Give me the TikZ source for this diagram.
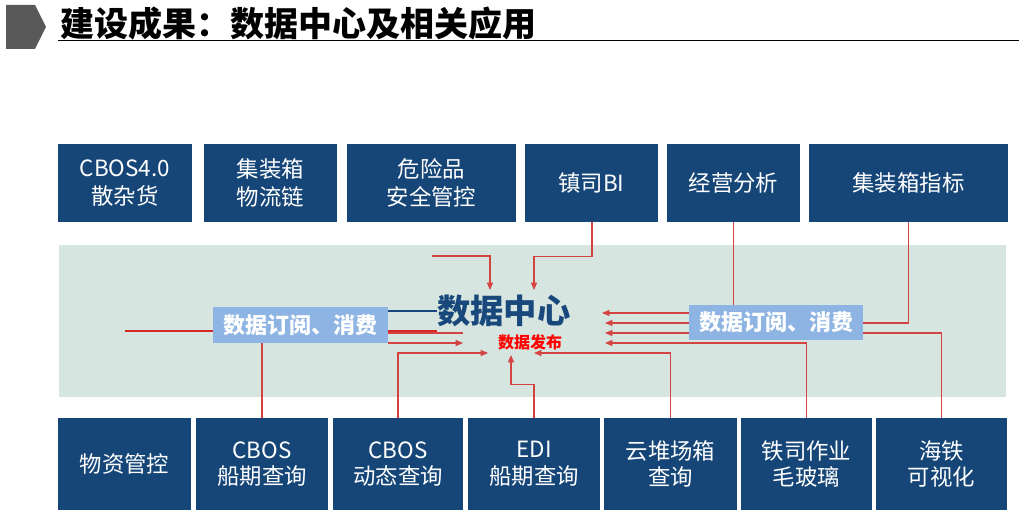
\documentclass[tikz,border=0pt]{standalone}
\usepackage{fontspec}
\setmainfont{Noto Sans CJK SC}
\usetikzlibrary{arrows.meta}
\definecolor{boxblue}{RGB}{22,70,120}
\definecolor{bandc}{RGB}{214,229,223}
\definecolor{subblue}{RGB}{141,180,226}
\definecolor{lred}{RGB}{212,66,66}
\definecolor{tred}{RGB}{214,40,36}
\definecolor{dcblue}{RGB}{24,72,124}
\definecolor{pent}{RGB}{89,89,89}
\begin{document}
\begin{tikzpicture}[x=0.75pt,y=-0.75pt,
  bx/.style n args={4}{minimum width={(#3-#1)*0.75pt}, minimum height={(#4-#2)*0.75pt},
    at={({(#1+#3)/2},{(#2+#4)/2})}},
  box/.style={fill=boxblue, inner sep=0pt, text=white, align=center,
    font=\fontsize{16.8pt}{21pt}\selectfont},
  lowbox/.style={box, font=\fontsize{16.8pt}{20pt}\selectfont},
  sub/.style={fill=subblue, inner sep=0pt, text=white,
    font=\bfseries\fontsize{16.5pt}{20pt}\selectfont},
  conn/.style={draw=lred, line width=0.8pt},
  arr/.style={conn, -{Triangle[length=5.5pt,width=4.5pt]}},
  thickred/.style={draw=tred, line width=1.9pt},
]
\useasboundingbox[fill=white] (0,0) rectangle (1019,524);

% title
\fill[pent] (6,5) -- (35,5) -- (46,27) -- (35,49) -- (6,49) -- cycle;
\node[anchor=base west, inner sep=0pt, font=\bfseries\fontsize{25.5pt}{30pt}\selectfont] (title) at (60,37) {建设成果：数据中心及相关应用};
\coordinate (ul1) at (58,40.5);
\coordinate (ul2) at (1019,40.5);
\draw[line width=1.3pt] (ul1) -- (ul2);

% band
\node[fill=bandc, inner sep=0pt, bx={59}{245}{1006}{397}] (band) {};

% top boxes
\node[box, bx={58}{144}{192}{222}] (t1) {CBOS4.0\\散杂货};
\node[box, bx={204}{144}{337}{222}] (t2) {集装箱\\物流链};
\node[box, bx={347}{144}{516}{222}] (t3) {危险品\\安全管控};
\node[box, bx={525}{144}{658}{222}] (t4) {镇司BI};
\node[box, bx={667}{144}{800}{222}] (t5) {经营分析};
\node[box, bx={809}{144}{1008}{222}] (t6) {集装箱指标};

% bottom boxes
\node[lowbox, bx={58}{418}{191}{510}] (b1) {物资管控};
\node[lowbox, bx={196}{418}{328}{510}] (b2) {CBOS\\船期查询};
\node[lowbox, bx={333}{418}{463}{510}] (b3) {CBOS\\动态查询};
\node[lowbox, bx={468}{418}{600}{510}] (b4) {EDI\\船期查询};
\node[lowbox, bx={604}{418}{737}{510}] (b5) {云堆场箱\\查询};
\node[lowbox, bx={741}{418}{872}{510}] (b6) {铁司作业\\毛玻璃};
\node[lowbox, bx={876}{418}{1007}{510}] (b7) {海铁\\可视化};

% thick red line behind left sub box
\coordinate (rl) at (125,331);
\coordinate (rr) at (437,331);
\draw[thickred] (rl) -- (rr);

% sub boxes
\node[sub, bx={213}{307}{388}{343}] (L) {数据订阅、消费};
\node[sub, bx={689}{305}{863}{340}] (R) {数据订阅、消费};

% centre
\node[anchor=west, inner sep=0pt, text=dcblue, font=\bfseries\fontsize{25pt}{28pt}\selectfont] (dc) at (437,311) {数据中心};
\node[inner sep=0pt, text=red, font=\bfseries\fontsize{12pt}{14pt}\selectfont] (pub) at (530,342) {数据发布};
\draw[dcblue, line width=1.4pt] (L.east |- dc.west) -- (dc.west);

% arrow tips / free ends
\coordinate (f1) at (432,256);
\coordinate (a1) at (490,290);
\coordinate (a2) at (534,290);
\coordinate (a3) at (602,313);
\coordinate (a4) at (605,323);
\coordinate (a5) at (605,333);
\coordinate (a6) at (605,343);
\coordinate (a7) at (534,353);
\coordinate (a8) at (511,355);
\coordinate (a9) at (488,353);
\coordinate (a10) at (463,343);
\coordinate (e12) at (463,333);

% connectors from top
\draw[arr] (f1) -- (a1 |- f1) -- (a1);
\draw[arr] ([xshift=0.5*0.75pt]t4.south) -- ++(0,34) -| (a2);
\draw[conn] (t5.south) -- (R.north -| t5.south);
\draw[conn] (t6.south) |- (R.east |- a4);

% right sub box to centre
\draw[arr] (R.west |- a3) -- (a3);
\draw[arr] (R.west |- a4) -- (a4);
\draw[arr] (R.west |- a5) -- (a5);
\draw[conn] (R.east |- a5) -| (b7.north);

% bottom connectors
\draw[arr] (b6.north) |- (a6);
\draw[arr] (b5.north) |- (a7);
\draw[arr] (b4.north) -- ++(0,-33) -| (a8);
\draw[arr] (b3.north) |- (a9);

% left sub box
\draw[arr] (L.east |- a10) -- (a10);
\draw[conn] (L.east |- e12) -- (e12);
\draw[conn] (L.south -| b2.north) -- (b2.north);
\end{tikzpicture}
\end{document}
